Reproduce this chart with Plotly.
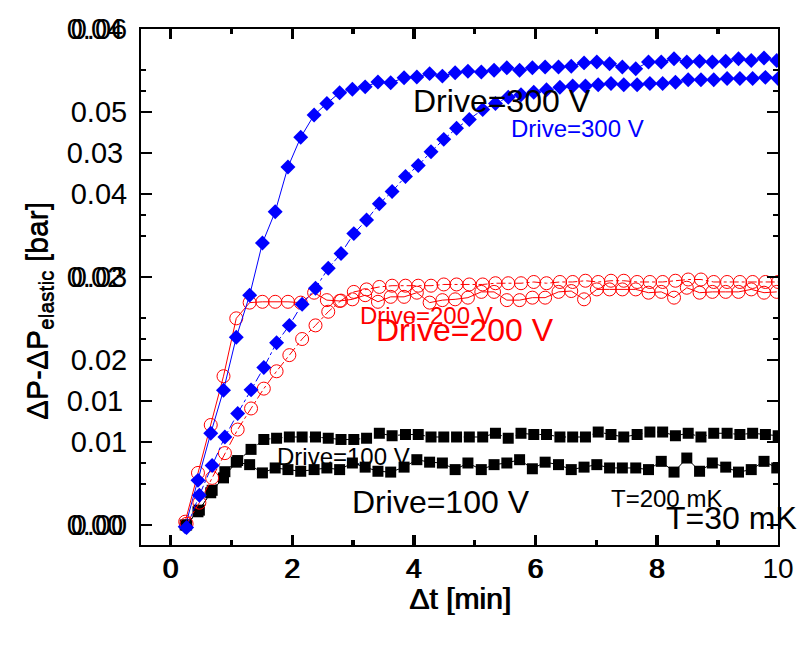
import plotly.graph_objects as go

# ---- time grid (minutes) ----
time = [0.25, 0.46, 0.67, 0.88, 1.09, 1.31, 1.52, 1.73, 1.94, 2.15, 2.37, 2.58,
        2.79, 3.00, 3.21, 3.42, 3.63, 3.85, 4.06, 4.27, 4.48, 4.69, 4.90, 5.12,
        5.33, 5.54, 5.75, 5.96, 6.17, 6.39, 6.60, 6.81, 7.02, 7.23, 7.44, 7.66,
        7.87, 8.08, 8.29, 8.50, 8.71, 8.92, 9.14, 9.35, 9.56, 9.77, 9.98]

# ---- T = 30 mK panel (axis 0 .. 0.06 bar) ----
t30_drive100 = [0.0000, 0.0016, 0.0039, 0.0057, 0.0076, 0.0073, 0.0063, 0.0069, 0.0067, 0.0065,
                0.0067, 0.0069, 0.0067, 0.0075, 0.0070, 0.0065, 0.0064, 0.0070, 0.0079, 0.0076,
                0.0075, 0.0067, 0.0075, 0.0067, 0.0073, 0.0075, 0.0079, 0.0068, 0.0076, 0.0073,
                0.0067, 0.0070, 0.0073, 0.0069, 0.0069, 0.0069, 0.0067, 0.0077, 0.0064, 0.0081,
                0.0065, 0.0075, 0.0070, 0.0064, 0.0067, 0.0077, 0.0069]
t30_drive200 = [0.0004, 0.0063, 0.0121, 0.0180, 0.0250, 0.0269, 0.0270, 0.0270, 0.0270, 0.0269,
                0.0281, 0.0272, 0.0271, 0.0273, 0.0278, 0.0270, 0.0276, 0.0276, 0.0281, 0.0269,
                0.0272, 0.0273, 0.0275, 0.0282, 0.0282, 0.0272, 0.0272, 0.0275, 0.0275, 0.0282,
                0.0283, 0.0273, 0.0285, 0.0285, 0.0285, 0.0285, 0.0281, 0.0282, 0.0275, 0.0287,
                0.0281, 0.0282, 0.0282, 0.0282, 0.0285, 0.0281, 0.0282]
t30_drive300 = [-0.0002, 0.0054, 0.0111, 0.0163, 0.0227, 0.0278, 0.0341, 0.0379, 0.0433, 0.0469,
                0.0496, 0.0510, 0.0523, 0.0527, 0.0530, 0.0536, 0.0535, 0.0541, 0.0542, 0.0546,
                0.0543, 0.0547, 0.0549, 0.0548, 0.0550, 0.0553, 0.0550, 0.0553, 0.0554, 0.0554,
                0.0555, 0.0559, 0.0560, 0.0558, 0.0554, 0.0552, 0.0560, 0.0560, 0.0564, 0.0560,
                0.0561, 0.0560, 0.0561, 0.0564, 0.0562, 0.0565, 0.0562]

# ---- T = 200 mK panel (axis 0 .. 0.04 bar) ----
t200_drive100 = [0.0000, 0.0012, 0.0028, 0.0043, 0.0052, 0.0061, 0.0069, 0.0070, 0.0071, 0.0071,
                 0.0071, 0.0070, 0.0069, 0.0069, 0.0070, 0.0074, 0.0072, 0.0073, 0.0073, 0.0071,
                 0.0071, 0.0071, 0.0071, 0.0071, 0.0074, 0.0070, 0.0074, 0.0073, 0.0073, 0.0071,
                 0.0071, 0.0071, 0.0075, 0.0073, 0.0071, 0.0073, 0.0075, 0.0075, 0.0072, 0.0074,
                 0.0071, 0.0074, 0.0074, 0.0073, 0.0074, 0.0073, 0.0072]
t200_drive200 = [0.0001, 0.0018, 0.0038, 0.0058, 0.0077, 0.0094, 0.0110, 0.0124, 0.0137, 0.0150,
                 0.0161, 0.0172, 0.0181, 0.0188, 0.0190, 0.0192, 0.0193, 0.0193, 0.0193, 0.0193,
                 0.0194, 0.0194, 0.0194, 0.0194, 0.0195, 0.0195, 0.0195, 0.0196, 0.0195, 0.0196,
                 0.0196, 0.0197, 0.0196, 0.0197, 0.0197, 0.0196, 0.0196, 0.0196, 0.0197, 0.0198,
                 0.0198, 0.0196, 0.0196, 0.0196, 0.0196, 0.0196, 0.0196]
t200_drive300 = [-0.0002, 0.0024, 0.0048, 0.0071, 0.0090, 0.0109, 0.0127, 0.0147, 0.0161, 0.0178,
                 0.0191, 0.0207, 0.0219, 0.0235, 0.0246, 0.0259, 0.0269, 0.0281, 0.0290, 0.0301,
                 0.0311, 0.0320, 0.0327, 0.0335, 0.0340, 0.0345, 0.0347, 0.0349, 0.0351, 0.0353,
                 0.0354, 0.0354, 0.0355, 0.0356, 0.0355, 0.0355, 0.0356, 0.0356, 0.0357, 0.0359,
                 0.0359, 0.0359, 0.0360, 0.0360, 0.0360, 0.0361, 0.0360]

x_ticks = [0, 2, 4, 6, 8, 10]
y30_ticks = [0.00, 0.01, 0.02, 0.03, 0.04, 0.05, 0.06]
y200_ticks = [0.00, 0.01, 0.02, 0.03, 0.04]

FONT = "Liberation Sans, Arial, sans-serif"
BLUE = "#0000FF"
RED = "#FF0000"

fig = go.Figure()

def add(y, color, symbol, size, dash, xa, ya, open_=False):
    if open_:
        marker = dict(symbol="circle-open", size=size, color=color, line=dict(width=1, color=color))
    else:
        marker = dict(symbol=symbol, size=size, color=color, line=dict(width=0))
    fig.add_trace(go.Scatter(x=time, y=y, mode="lines+markers",
                             line=dict(color=color, width=1, dash=dash),
                             marker=marker, xaxis=xa, yaxis=ya, showlegend=False))

# T=30 mK panel
add(t30_drive100, "black", "square", 11, "solid", "x", "y")
add(t30_drive200, RED, "circle", 13, "solid", "x", "y", open_=True)
add(t30_drive300, BLUE, "diamond", 11.5, "solid", "x", "y")
# T=200 mK panel
add(t200_drive100, "black", "square", 11, "dashdot", "x2", "y2")
add(t200_drive200, RED, "circle", 13, "dashdot", "x2", "y2", open_=True)
add(t200_drive300, BLUE, "diamond", 11.5, "dashdot", "x2", "y2")

axis_common = dict(showgrid=False, zeroline=False, showline=True, linecolor="black",
                   linewidth=2, ticks="inside", tickcolor="black", tickwidth=1.5,
                   mirror="ticks")

fig.update_layout(
    width=808, height=645,
    margin=dict(l=141, r=30, t=29, b=100, pad=0),
    paper_bgcolor="white", plot_bgcolor="white",
    font=dict(family=FONT, color="black"),
    showlegend=False,
    xaxis=dict(range=[-0.477, 10.0], tickvals=x_ticks, ticklen=10,
               minor=dict(dtick=1, tick0=0, ticklen=5, ticks="inside", tickcolor="black", tickwidth=1.5),
               tickfont=dict(size=28, family=FONT), ticklabelstandoff=-3,
               anchor="y", **axis_common),
    xaxis2=dict(range=[-0.50, 9.977], tickvals=x_ticks, ticklen=10, overlaying="x",
                minor=dict(dtick=1, tick0=0, ticklen=5, ticks="inside", tickcolor="black", tickwidth=1.5),
                tickfont=dict(size=28, family=FONT), ticklabelstandoff=-3,
                side="bottom", anchor="y2", **axis_common),
    yaxis=dict(range=[-0.00242, 0.06], tickvals=y30_ticks, tickformat=".2f", ticklen=11,
               minor=dict(dtick=0.005, tick0=0, ticklen=5, ticks="inside", tickcolor="black", tickwidth=1.5),
               tickfont=dict(size=29, family=FONT), ticklabelstandoff=6,
               anchor="x", **axis_common),
    yaxis2=dict(range=[-0.00161, 0.04], tickvals=y200_ticks, tickformat=".2f", ticklen=11,
                overlaying="y", side="left", anchor="x2",
                minor=dict(dtick=0.005, tick0=0, ticklen=5, ticks="inside", tickcolor="black", tickwidth=1.5),
                tickfont=dict(size=29, family=FONT), ticklabelstandoff=10,
                **axis_common),
)

ann = []
def text(x, y, s, size, color, xref, yref):
    ann.append(dict(x=x, y=y, text=s, xref=xref, yref=yref, showarrow=False,
                    xanchor="left", yanchor="middle", font=dict(size=size, color=color, family=FONT)))

# T=30 mK labels (large)
text(3.97, 0.0513, "Drive=300 V", 32, "black", "x", "y")
text(3.35, 0.0236, "Drive=200 V", 32, RED, "x", "y")
text(2.96, 0.0028, "Drive=100 V", 32, "black", "x", "y")
text(8.13, 0.0008, "T=30 mK", 32, "black", "x", "y")
# T=200 mK labels (small)
text(5.56, 0.0320, "Drive=300 V", 24, BLUE, "x2", "y2")
text(3.07, 0.0169, "Drive=200 V", 24, RED, "x2", "y2")
text(1.70, 0.0055, "Drive=100 V", 24, "black", "x2", "y2")
text(7.19, 0.0021, "T=200 mK", 24, "black", "x2", "y2")

# axis titles (drawn twice, slightly offset, as in the reference)
for dx in (0, 1.0):
    ann.append(dict(x=0.5, y=(545 - 598) / 516, xref="paper", yref="paper", xshift=dx,
                    text="Δt [min]", showarrow=False, xanchor="center", yanchor="middle",
                    font=dict(size=30, family=FONT, color="black")))
    ann.append(dict(x=(38 - 141) / 637, y=(545 - 311) / 516, xref="paper", yref="paper", xshift=dx,
                    text="ΔP-ΔP<sub>elastic</sub> [bar]", textangle=-90, showarrow=False,
                    xanchor="center", yanchor="middle",
                    font=dict(size=30, family=FONT, color="black")))

fig.update_layout(annotations=ann)
fig.write_html("out.html")
